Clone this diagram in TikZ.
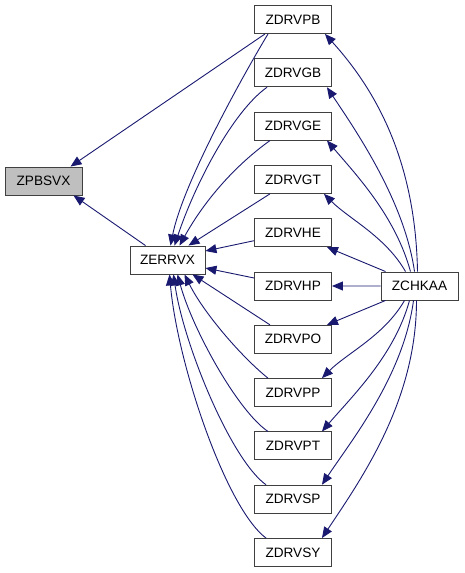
\documentclass[tikz,border=0pt]{standalone}
\usepackage{fontspec}
\setmainfont{Liberation Sans}
\usepackage{xcolor}
\usetikzlibrary{arrows.meta, positioning}
\definecolor{edge}{HTML}{191970}

\begin{document}
\begin{tikzpicture}[x=1pt, y=-1pt, node distance=24.4pt,
      every node/.style={font=\fontsize{13.6}{15}\selectfont},
      box/.style={draw=black!75, fill=white, line width=0.9pt, minimum width=77pt, minimum height=28pt, inner sep=1pt},
      arr/.style={-{Triangle[length=11pt, width=9pt]}, edge, line width=0.9pt}]
    \useasboundingbox (0,0) rectangle (464,573);
    \node[box, fill=black!25] (pbsvx) at (43.5,181) {ZPBSVX};
    \node[box, minimum width=75pt] (err) at (167.5,260) {ZERRVX};
    \node[box] (drvpb) at (293,19.5) {ZDRVPB};
    \node[box, below=of drvpb] (drvgb) {ZDRVGB};
    \node[box, below=of drvgb] (drvge) {ZDRVGE};
    \node[box, below=of drvge] (drvgt) {ZDRVGT};
    \node[box, below=of drvgt] (drvhe) {ZDRVHE};
    \node[box, below=of drvhe] (drvhp) {ZDRVHP};
    \node[box, below=of drvhp] (drvpo) {ZDRVPO};
    \node[box, below=of drvpo] (drvpp) {ZDRVPP};
    \node[box, below=of drvpp] (drvpt) {ZDRVPT};
    \node[box, below=of drvpt] (drvsp) {ZDRVSP};
    \node[box, below=of drvsp] (drvsy) {ZDRVSY};
    \node[box] (chk) at (419.5,286) {ZCHKAA};
    % callers of ZPBSVX
    \draw[arr] ([xshift=-28pt]drvpb.south) -- ([xshift=27pt]pbsvx.north);
    \draw[arr] ([xshift=-22pt]err.north) -- ([xshift=30pt]pbsvx.south);
    % drivers calling ZERRVX
    \draw[arr] ([xshift=-25pt]drvpb.south) .. controls +(-30,50) and +(12,-60) .. ([xshift=3pt]err.north);
    \draw[arr] ([xshift=-26pt]drvgb.south) .. controls +(-35,25) and +(20,-60) .. ([xshift=7pt]err.north);
    \draw[arr] ([xshift=-23pt]drvge.south) .. controls +(-35,25) and +(25,-45) .. ([xshift=12pt]err.north);
    \draw[arr] ([xshift=-23pt]drvgt.south) -- ([xshift=21pt]err.north);
    \draw[arr] ([yshift=-8pt]drvhe.west) -- ([yshift=9pt]err.east);
    \draw[arr] ([yshift=8pt]drvhp.west) -- ([yshift=-8pt]err.east);
    \draw[arr] ([xshift=-23pt]drvpo.north) -- ([xshift=25pt]err.south);
    \draw[arr] ([xshift=-25pt]drvpp.north) .. controls +(-25,-20) and +(20,40) .. ([xshift=17pt]err.south);
    \draw[arr] ([xshift=-25pt]drvpt.north) .. controls +(-30,-20) and +(15,55) .. ([xshift=10pt]err.south);
    \draw[arr] ([xshift=-27pt]drvsp.north) .. controls +(-35,-25) and +(10,70) .. ([xshift=6pt]err.south);
    \draw[arr] ([xshift=-27pt]drvsy.north) .. controls +(-40,-30) and +(8,90) .. ([xshift=2pt]err.south);
    % ZCHKAA calls
    \draw[arr] ([xshift=-2pt]chk.north) .. controls +(-2,-112) and +(50,55) .. ([xshift=-7pt]drvpb.south east);
    \draw[arr] ([xshift=-5pt]chk.north) .. controls +(-10,-70) and +(30,45) .. ([xshift=-5pt]drvgb.south east);
    \draw[arr] ([xshift=-9pt]chk.north) .. controls +(-15,-55) and +(30,35) .. ([xshift=-5pt]drvge.south east);
    \draw[arr] ([xshift=-14pt]chk.north) .. controls +(-20,-35) and +(25,25) .. ([xshift=-8pt]drvgt.south east);
    \draw[arr] ([xshift=5pt]chk.north west) -- ([xshift=-5pt]drvhe.south east);
    \draw[arr] (chk) -- (drvhp);
    \draw[arr] ([xshift=5pt]chk.south west) -- ([xshift=-5pt]drvpo.north east);
    \draw[arr] ([xshift=-15pt]chk.south) .. controls +(-20,35) and +(25,-25) .. ([xshift=-10pt]drvpp.north east);
    \draw[arr] ([xshift=-10pt]chk.south) .. controls +(-15,55) and +(30,-35) .. ([xshift=-10pt]drvpt.north east);
    \draw[arr] ([xshift=-6pt]chk.south) .. controls +(-10,75) and +(30,-45) .. ([xshift=-10pt]drvsp.north east);
    \draw[arr] ([xshift=-3pt]chk.south) .. controls +(0,100) and +(40,-60) .. ([xshift=-10pt]drvsy.north east);
  \end{tikzpicture}
\end{document}
